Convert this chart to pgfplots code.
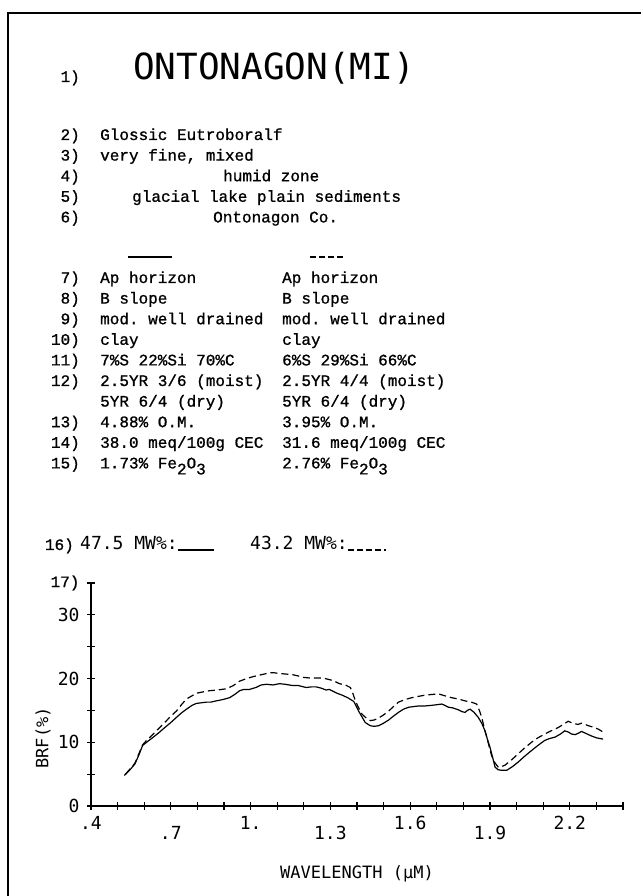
\documentclass[border=0pt]{standalone}
\usepackage{pgfplots}
\pgfplotsset{compat=1.18}
\usepackage{fontspec}
\setmonofont[FakeBold=1]{Liberation Mono}
\newfontfamily\plotfont{DejaVu Sans Mono}
\newcommand{\tw}{\fontsize{16pt}{18pt}\selectfont\ttfamily}
\newcommand{\pf}[1]{\plotfont\fontsize{#1}{#1}\selectfont}
\pgfplotstableread{
x y
0.525 4.8
0.545 5.6
0.565 6.6
0.58 8.0
0.594 9.5
0.615 10.2
0.634 10.8
0.655 11.5
0.677 12.3
0.70 13.1
0.721 13.9
0.74 14.6
0.759 15.2
0.78 15.8
0.796 16.1
0.815 16.2
0.834 16.3
0.85 16.3
0.871 16.5
0.895 16.7
0.921 17.0
0.94 17.5
0.959 18.1
0.975 18.3
0.996 18.3
1.02 18.6
1.04 19.0
1.06 19.1
1.084 19.0
1.109 19.2
1.13 19.1
1.159 18.9
1.18 18.9
1.209 18.6
1.23 18.7
1.246 18.7
1.265 18.5
1.284 18.2
1.296 18.3
1.31 18.0
1.325 17.7
1.344 17.4
1.365 17.0
1.388 16.4
1.398 15.6
1.406 14.9
1.42 13.9
1.431 13.1
1.45 12.6
1.465 12.5
1.481 12.6
1.50 13.0
1.519 13.5
1.54 14.2
1.556 14.7
1.575 15.2
1.594 15.5
1.612 15.6
1.631 15.7
1.655 15.7
1.681 15.8
1.70 15.9
1.719 16.0
1.73 15.8
1.744 15.5
1.76 15.4
1.781 15.1
1.795 14.8
1.806 14.7
1.815 15.0
1.825 15.2
1.84 14.7
1.856 13.9
1.87 12.9
1.881 11.8
1.89 10.5
1.90 9.2
1.91 7.6
1.919 6.1
1.93 5.7
1.944 5.6
1.963 5.6
1.985 6.2
2.006 6.9
2.03 7.8
2.056 8.7
2.08 9.5
2.106 10.3
2.125 10.6
2.144 10.8
2.165 11.3
2.181 11.8
2.195 11.6
2.206 11.3
2.22 11.2
2.231 11.4
2.244 11.7
2.26 11.4
2.281 11.0
2.30 10.7
2.325 10.5
}\solid
\pgfplotstableread{
x y
0.53 5.0
0.565 6.7
0.594 9.6
0.609 10.3
0.627 11.0
0.646 11.8
0.665 12.6
0.684 13.4
0.70 14.1
0.721 14.9
0.74 15.9
0.759 16.8
0.78 17.3
0.796 17.7
0.82 17.9
0.846 18.1
0.875 18.2
0.909 18.4
0.935 18.9
0.959 19.6
0.985 20.0
1.009 20.3
1.04 20.6
1.071 20.9
1.09 20.9
1.109 20.8
1.135 20.7
1.159 20.6
1.18 20.4
1.196 20.2
1.22 20.1
1.25 20.1
1.271 20.1
1.29 19.9
1.309 19.7
1.334 19.2
1.356 19.0
1.375 18.6
1.385 17.6
1.394 16.5
1.405 15.5
1.419 14.4
1.435 13.8
1.45 13.4
1.465 13.5
1.481 13.8
1.50 14.3
1.519 14.9
1.537 15.6
1.556 16.3
1.58 16.7
1.606 17.0
1.63 17.2
1.656 17.4
1.68 17.5
1.706 17.6
1.73 17.3
1.756 17.0
1.78 16.8
1.806 16.5
1.83 16.3
1.85 16.0
1.86 15.0
1.869 13.9
1.878 12.3
1.888 10.8
1.897 9.3
1.906 7.9
1.918 6.8
1.931 6.1
1.944 6.2
1.956 6.4
1.98 7.2
2.006 8.2
2.03 9.1
2.056 10.0
2.08 10.7
2.106 11.3
2.13 11.8
2.156 12.3
2.175 12.8
2.194 13.3
2.21 13.0
2.231 12.8
2.244 13.0
2.27 12.6
2.294 12.3
2.31 12.0
2.325 11.6
}\dashed
\begin{document}
\begin{tikzpicture}
\path[use as bounding box] (0pt,0pt) rectangle (641pt,896pt);
\draw[line width=2pt] (8pt,0pt) -- (8pt,883pt) -- (641pt,883pt);
% title
\node[anchor=base east,inner sep=0] at (80pt,814pt) {\tw 1)};
\node[anchor=base west,inner sep=0] at (133pt,816pt) {\pf{36pt}ONTONAGON(MI)};
% lines 2-6
\node[anchor=base east,inner sep=0] at (80pt,756pt) {\tw 2)};
\node[anchor=base west,inner sep=0] at (100pt,756pt) {\tw Glossic Eutroboralf};
\node[anchor=base east,inner sep=0] at (80pt,735.4pt) {\tw 3)};
\node[anchor=base west,inner sep=0] at (100pt,735.4pt) {\tw very fine, mixed};
\node[anchor=base east,inner sep=0] at (80pt,714.8pt) {\tw 4)};
\node[anchor=base west,inner sep=0] at (223pt,714.8pt) {\tw humid zone};
\node[anchor=base east,inner sep=0] at (80pt,694.2pt) {\tw 5)};
\node[anchor=base west,inner sep=0] at (132pt,694.2pt) {\tw glacial lake plain sediments};
\node[anchor=base east,inner sep=0] at (80pt,673.6pt) {\tw 6)};
\node[anchor=base west,inner sep=0] at (213pt,673.6pt) {\tw Ontonagon Co.};
% legend marks
\draw[line width=1.3pt] (128pt,639pt) -- (172pt,639pt);
\draw[line width=1.3pt,dash pattern=on 6pt off 3pt] (310pt,639pt) -- (346pt,639pt);
% lines 7-15
\node[anchor=base east,inner sep=0] at (80pt,613pt) {\tw 7)};
\node[anchor=base west,inner sep=0] at (100pt,613pt) {\tw Ap horizon};
\node[anchor=base west,inner sep=0] at (282pt,613pt) {\tw Ap horizon};
\node[anchor=base east,inner sep=0] at (80pt,592.4pt) {\tw 8)};
\node[anchor=base west,inner sep=0] at (100pt,592.4pt) {\tw B slope};
\node[anchor=base west,inner sep=0] at (282pt,592.4pt) {\tw B slope};
\node[anchor=base east,inner sep=0] at (80pt,571.8pt) {\tw 9)};
\node[anchor=base west,inner sep=0] at (100pt,571.8pt) {\tw mod. well drained};
\node[anchor=base west,inner sep=0] at (282pt,571.8pt) {\tw mod. well drained};
\node[anchor=base east,inner sep=0] at (80pt,551.2pt) {\tw 10)};
\node[anchor=base west,inner sep=0] at (100pt,551.2pt) {\tw clay};
\node[anchor=base west,inner sep=0] at (282pt,551.2pt) {\tw clay};
\node[anchor=base east,inner sep=0] at (80pt,530.6pt) {\tw 11)};
\node[anchor=base west,inner sep=0] at (100pt,530.6pt) {\tw 7\%S 22\%Si 70\%C};
\node[anchor=base west,inner sep=0] at (282pt,530.6pt) {\tw 6\%S 29\%Si 66\%C};
\node[anchor=base east,inner sep=0] at (80pt,510pt) {\tw 12)};
\node[anchor=base west,inner sep=0] at (100pt,510pt) {\tw 2.5YR 3/6 (moist)};
\node[anchor=base west,inner sep=0] at (282pt,510pt) {\tw 2.5YR 4/4 (moist)};
\node[anchor=base west,inner sep=0] at (100pt,489.4pt) {\tw 5YR 6/4 (dry)};
\node[anchor=base west,inner sep=0] at (282pt,489.4pt) {\tw 5YR 6/4 (dry)};
\node[anchor=base east,inner sep=0] at (80pt,468.8pt) {\tw 13)};
\node[anchor=base west,inner sep=0] at (100pt,468.8pt) {\tw 4.88\% O.M.};
\node[anchor=base west,inner sep=0] at (282pt,468.8pt) {\tw 3.95\% O.M.};
\node[anchor=base east,inner sep=0] at (80pt,448.2pt) {\tw 14)};
\node[anchor=base west,inner sep=0] at (100pt,448.2pt) {\tw 38.0 meq/100g CEC};
\node[anchor=base west,inner sep=0] at (282pt,448.2pt) {\tw 31.6 meq/100g CEC};
\node[anchor=base east,inner sep=0] at (80pt,427.6pt) {\tw 15)};
\node[anchor=base west,inner sep=0] at (100pt,427.6pt) {\tw 1.73\% Fe\raisebox{-6pt}{2}O\raisebox{-6pt}{3}};
\node[anchor=base west,inner sep=0] at (282pt,427.6pt) {\tw 2.76\% Fe\raisebox{-6pt}{2}O\raisebox{-6pt}{3}};
% line 16
\node[anchor=base east,inner sep=0] at (74pt,346pt) {\tw 16)};
\node[anchor=base west,inner sep=0] at (80pt,346pt) {\pf{18pt}47.5 MW\%:};
\draw[line width=1.3pt] (178pt,346pt) -- (214pt,346pt);
\node[anchor=base west,inner sep=0] at (250pt,346pt) {\pf{18pt}43.2 MW\%:};
\draw[line width=1.3pt,dash pattern=on 6pt off 3pt] (348pt,346pt) -- (386pt,346pt);
\begin{axis}[
  at={(91pt,90pt)}, anchor=south west,
  scale only axis, width=532pt, height=223pt,
  xmin=0.4, xmax=2.4, ymin=0, ymax=35,
  axis x line=bottom, axis y line=left,
  axis line style={-, line width=1.3pt},
  tick align=center, major tick length=8pt,
  tick style={line width=1.1pt, black},
  xtick={0.4,0.5,0.6,0.7,0.8,0.9,1.0,1.1,1.2,1.3,1.4,1.5,1.6,1.7,1.8,1.9,2.0,2.1,2.2,2.3,2.4},
  xticklabels={.4,,,,,,1.,,,,,,1.6,,,,,,2.2,,},
  extra x ticks={0.7,1.3,1.9},
  extra x tick labels={.7,1.3,1.9},
  extra x tick style={major tick length=0pt, xticklabel style={yshift=-14pt}},
  xticklabel style={font=\pf{18pt}, yshift=-3pt},
  ytick={0,5,10,15,20,25,30,35},
  yticklabels={0,,10,,20,,30,{\tw 17)}},
  yticklabel style={font=\pf{18pt}, xshift=-4pt},
  xlabel={WAVELENGTH (μM)},
  xlabel style={font=\pf{17pt}, at={(axis description cs:0.5,0)}, anchor=base, yshift=-72pt},
  ylabel={BRF(\%)},
  ylabel style={font=\pf{17pt}, at={(axis description cs:-0.09,0.305)}, anchor=center},
  clip=false,
]
\addplot[black, line width=1.2pt, no marks] table {\solid};
\addplot[black, line width=1.2pt, no marks, dash pattern=on 7pt off 4pt] table {\dashed};
\end{axis}
\end{tikzpicture}
\end{document}
